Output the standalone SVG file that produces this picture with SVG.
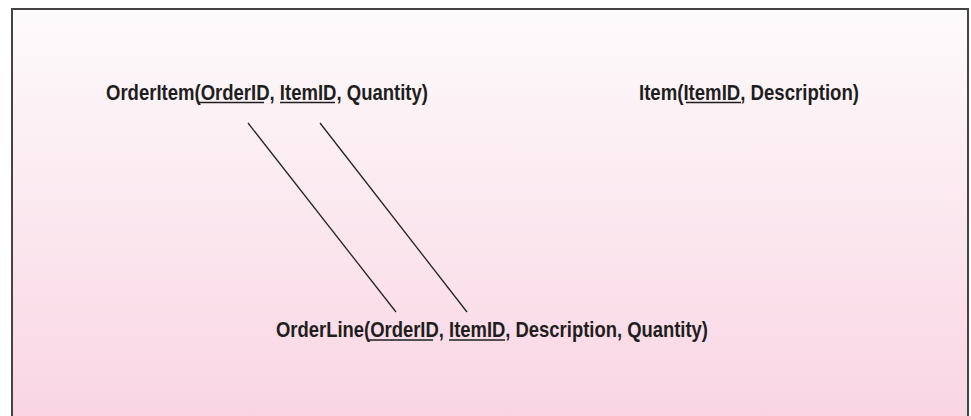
<svg xmlns="http://www.w3.org/2000/svg" width="971" height="416" viewBox="0 0 971 416">
  <defs>
    <linearGradient id="bg" x1="0" y1="0" x2="0" y2="1">
      <stop offset="0" stop-color="#fdfbfc"/>
      <stop offset="1" stop-color="#f9d4e2"/>
    </linearGradient>
  </defs>
  <style>
    .rel { font-family: "Liberation Sans Narrow", "Liberation Sans", Arial, sans-serif; font-weight: bold; font-size: 22px; fill: #1e1e1e; }
    .key { stroke: #1e1e1e; stroke-width: 1.6; }
    .link { stroke: #222222; stroke-width: 1.3; fill: none; }
  </style>
  <rect x="0" y="0" width="971" height="416" fill="#ffffff"/>
  <rect x="12" y="9" width="956" height="420" fill="url(#bg)" stroke="#444444" stroke-width="2"/>

  <g id="connectors">
    <line class="link" x1="248" y1="123" x2="396" y2="312"/>
    <line class="link" x1="320" y1="123" x2="467" y2="312"/>
  </g>

  <!-- relation OrderItem, keys underlined -->
  <g id="orderitem">
    <text class="rel" x="106" y="100" textLength="322" lengthAdjust="spacingAndGlyphs">OrderItem(OrderID, ItemID, Quantity)</text>
    <line class="key" x1="198" y1="102.5" x2="264" y2="102.5"/>
    <line class="key" x1="280" y1="102.5" x2="335" y2="102.5"/>
  </g>

  <!-- relation Item -->
  <g id="item">
    <text class="rel" x="639" y="100" textLength="220" lengthAdjust="spacingAndGlyphs">Item(ItemID, Description)</text>
    <line class="key" x1="686" y1="102.5" x2="741" y2="102.5"/>
  </g>

  <!-- relation OrderLine -->
  <g id="orderline">
    <text class="rel" x="276" y="337" textLength="432" lengthAdjust="spacingAndGlyphs">OrderLine(OrderID, ItemID, Description, Quantity)</text>
    <line class="key" x1="369" y1="340" x2="433" y2="340"/>
    <line class="key" x1="449" y1="340" x2="505" y2="340"/>
  </g>
</svg>
